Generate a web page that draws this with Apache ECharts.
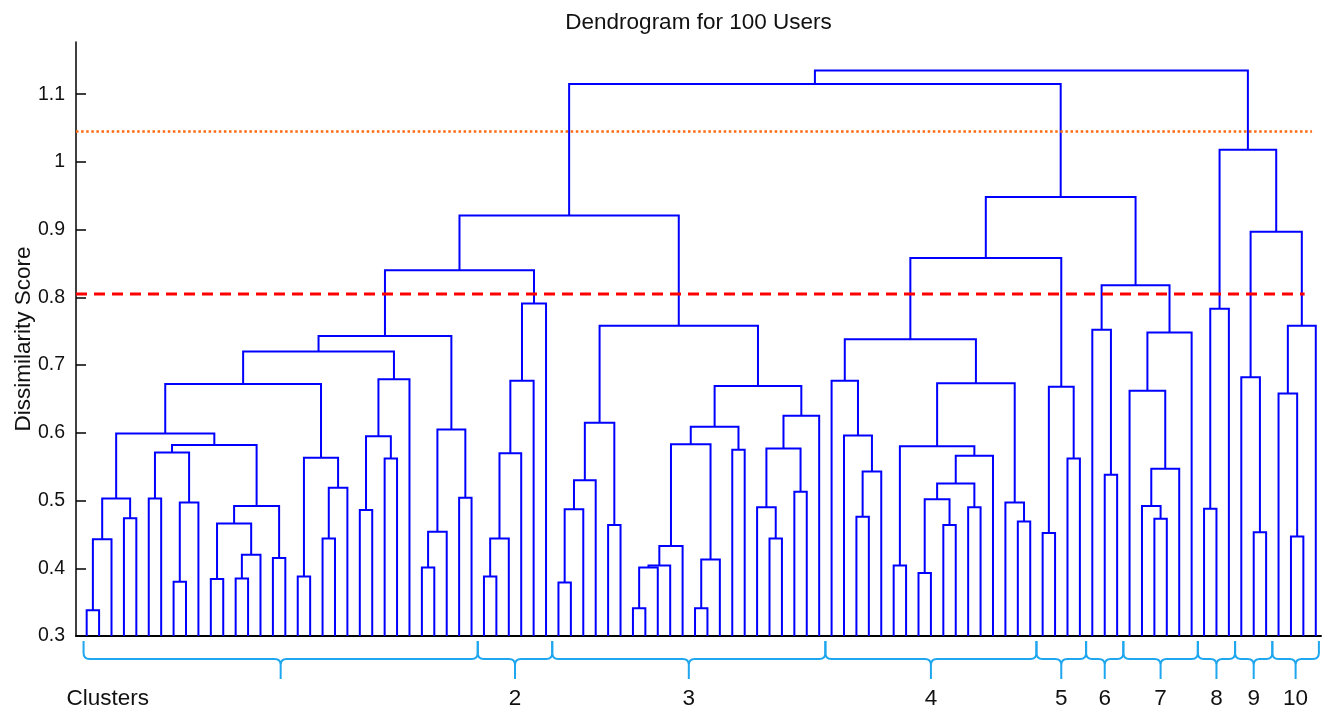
<!DOCTYPE html>
<html><head><meta charset="utf-8">
<script src="https://cdn.jsdelivr.net/npm/echarts@6/dist/echarts.min.js"></script>
<style>html,body{margin:0;padding:0;background:#fff}#c{width:1330px;height:711px}</style>
</head><body><div id="c"></div>
<script>
// Tree nodes: [left, right, mergeHeight]; a number is a leaf (its left-to-right position, 0..99)
const cluster1 = [
  [
    [
      [[[[0, 1, 0.338], 2, 0.443], [3, 4, 0.474], 0.503],
       [[[5, 6, 0.503], [[7, 8, 0.380], 9, 0.497], 0.571],
        [[[10, 11, 0.384], [[12, 13, 0.385], 14, 0.420], 0.466], [15, 16, 0.415], 0.492], 0.582], 0.599],
      [[17, 18, 0.388], [[19, 20, 0.444], 21, 0.519], 0.563], 0.672],
    [[[22, 23, 0.486], [24, 25, 0.562], 0.595], 26, 0.679], 0.720],
  [[[27, 28, 0.401], 29, 0.454], [30, 31, 0.504], 0.605], 0.743];
const cluster2 = [[[[[32, 33, 0.388], 34, 0.444], 35, 0.570], 36, 0.677], 37, 0.791];
const cluster3 = [
  [[[[38, 39, 0.379], 40, 0.487], 41, 0.530], [42, 43, 0.464], 0.615],
  [
    [[[[[[44, 45, 0.341], 46, 0.401], 47, 0.404], 48, 0.433], [[49, 50, 0.341], 51, 0.413], 0.583], [52, 53, 0.575], 0.609],
    [[[54, [55, 56, 0.444], 0.490], [57, 58, 0.513], 0.577], 59, 0.625], 0.669], 0.758];
const cluster4 = [
  [60, [61, [[62, 63, 0.476], 64, 0.543], 0.596], 0.677],
  [[[65, 66, 0.404], [[[[67, 68, 0.393], [69, 70, 0.464], 0.502], [71, 72, 0.490], 0.525], 73, 0.566], 0.580],
   [74, [75, 76, 0.469], 0.497], 0.673], 0.738];
const cluster5 = [[77, 78, 0.452], [79, 80, 0.562], 0.668];
const cluster6 = [81, [82, 83, 0.538], 0.752];
const cluster7 = [[84, [[85, [86, 87, 0.473], 0.492], 88, 0.547], 0.662], 89, 0.748];
const cluster8 = [[90, 91, 0.488], 92, 0.783];
const cluster9 = [93, [94, 95, 0.453], 0.682];
const cluster10 = [[96, [97, 98, 0.447], 0.658], 99, 0.758];
const rootTree = [
  [[[cluster1, cluster2, 0.840], cluster3, 0.921],
   [[cluster4, cluster5, 0.858], [cluster6, cluster7, 0.818], 0.948], 1.115],
  [cluster8, [cluster9, cluster10, 0.897], 1.018], 1.135];

const clusterRanges = [[0, 31], [32, 37], [38, 59], [60, 76], [77, 80], [81, 83], [84, 89], [90, 92], [93, 95], [96, 99]];
const clusterLabels = ['Clusters', '2', '3', '4', '5', '6', '7', '8', '9', '10'];
const yTicks = [0.3, 0.4, 0.5, 0.6, 0.7, 0.8, 0.9, 1.0, 1.1];
const cutUpper = 1.045;
const cutLower = 0.805;

const Y_MIN = 0.3, Y_MAX = 1.177, X_MIN = -0.86, X_MAX = 99.42;
const FONT = '"Liberation Sans", Arial, Helvetica, sans-serif';

const links = [];
function walk(n) {
  if (typeof n === 'number') return { x: n, y: Y_MIN };
  const l = walk(n[0]), r = walk(n[1]);
  links.push([l.x, r.x, l.y, r.y, n[2]]);
  return { x: (l.x + r.x) / 2, y: n[2] };
}
walk(rootTree);

const braceData = clusterRanges.map((r, i) => [
  i === 0 ? r[0] - 0.25 : r[0] - 0.5,
  i === clusterRanges.length - 1 ? r[1] + 0.25 : r[1] + 0.5,
  i
]);

const chart = echarts.init(document.getElementById('c'));
chart.setOption({
  animation: false,
  backgroundColor: '#fff',
  graphic: [{
    type: 'text', x: 698.5, y: 23,
    style: { text: 'Dendrogram for 100 Users', font: '22.5px ' + FONT, fill: '#111', align: 'center', verticalAlign: 'middle' }
  }],
  grid: { left: 76, right: 9, top: 42, bottom: 75, outerBoundsMode: 'none', containLabel: false },
  xAxis: {
    type: 'value', min: X_MIN, max: X_MAX,
    axisLine: { show: true, onZero: false, lineStyle: { color: '#000', width: 2 } },
    axisTick: { show: false }, axisLabel: { show: false }, splitLine: { show: false }
  },
  yAxis: {
    type: 'value', min: Y_MIN, max: Y_MAX, interval: 0.1,
    name: 'Dissimilarity Score', nameLocation: 'middle', nameGap: 41, nameMoveOverlap: false,
    nameTextStyle: { fontFamily: FONT, fontSize: 22.5, color: '#111' },
    axisLine: { show: true, onZero: false, lineStyle: { color: '#000', width: 1.5 } },
    axisTick: { show: true, inside: true, length: 10, customValues: yTicks, lineStyle: { color: '#000', width: 1.5 } },
    axisLabel: {
      customValues: yTicks, margin: 11, fontFamily: FONT, fontSize: 19.5, color: '#111',
      formatter: v => String(Math.round(v * 10) / 10)
    },
    splitLine: { show: false }
  },
  series: [
    {
      type: 'custom', name: 'links', clip: false,
      data: links,
      encode: { x: [0, 1], y: [2, 3, 4] },
      renderItem: (params, api) => {
        const xl = api.value(0), xr = api.value(1), yl = api.value(2), yr = api.value(3), h = api.value(4);
        return {
          type: 'polyline',
          shape: { points: [api.coord([xl, yl]), api.coord([xl, h]), api.coord([xr, h]), api.coord([xr, yr])] },
          style: { stroke: '#0000ff', lineWidth: 2, fill: null, lineJoin: 'miter' }
        };
      }
    },
    {
      type: 'line', name: 'cutLower', data: [[X_MIN, cutLower], [98.1, cutLower]],
      symbol: 'none', lineStyle: { color: '#ff0000', width: 3, type: [11, 7] }, z: 3
    },
    {
      type: 'line', name: 'cutUpper', data: [[X_MIN, cutUpper], [98.7, cutUpper]],
      symbol: 'none', lineStyle: { color: '#ff6a10', width: 2.5, type: [2.5, 2.6], cap: 'butt' }, z: 3
    },
    {
      type: 'custom', name: 'braces', clip: false,
      data: braceData,
      encode: { x: [0, 1] },
      renderItem: (params, api) => {
        const a = api.coord([api.value(0), Y_MIN])[0];
        const b = api.coord([api.value(1), Y_MIN])[0];
        const idx = api.value(2);
        const base = api.coord([0, Y_MIN])[1];
        const yTop = base + 5, yMid = base + 23, yTip = base + 43, r = 6;
        const m = (a + b) / 2;
        const d = 'M' + a + ' ' + yTop + ' L' + a + ' ' + (yMid - r) +
          ' Q' + a + ' ' + yMid + ' ' + (a + r) + ' ' + yMid +
          ' L' + (m - r) + ' ' + yMid + ' Q' + m + ' ' + yMid + ' ' + m + ' ' + (yMid + r) +
          ' L' + m + ' ' + yTip +
          ' M' + m + ' ' + (yMid + r) + ' Q' + m + ' ' + yMid + ' ' + (m + r) + ' ' + yMid +
          ' L' + (b - r) + ' ' + yMid + ' Q' + b + ' ' + yMid + ' ' + b + ' ' + (yMid - r) +
          ' L' + b + ' ' + yTop;
        const label = clusterLabels[idx];
        const first = idx === 0;
        return {
          type: 'group',
          children: [
            { type: 'path', shape: { pathData: d }, style: { stroke: '#1ea6ee', lineWidth: 2, fill: null } },
            {
              type: 'text',
              x: first ? a - 17 : m, y: base + 63,
              style: { text: label, font: '22.5px ' + FONT, fill: '#111', align: first ? 'left' : 'center', verticalAlign: 'middle' }
            }
          ]
        };
      }
    }
  ]
});
</script>
</body></html>
